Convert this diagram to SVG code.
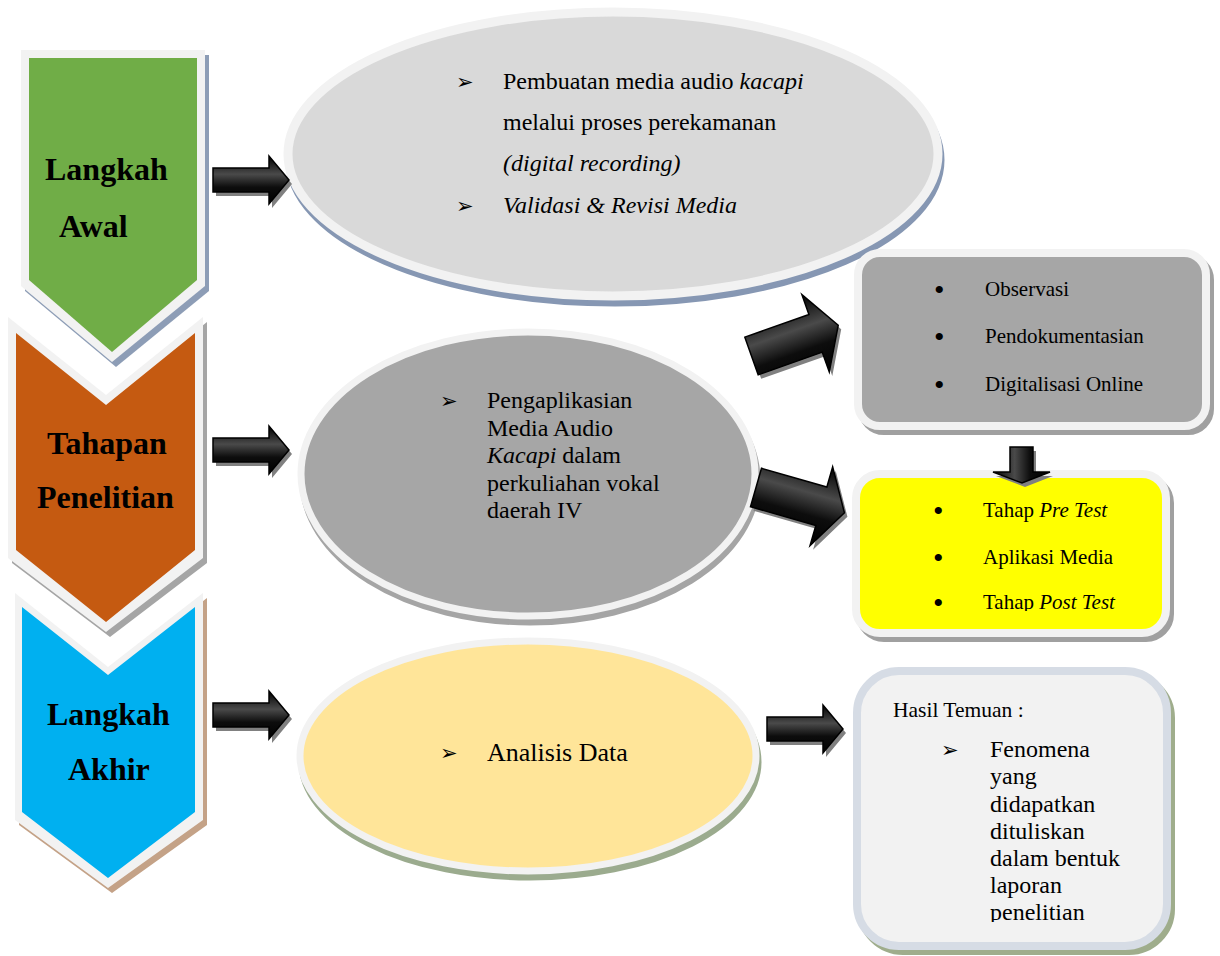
<svg xmlns="http://www.w3.org/2000/svg" xmlns:xlink="http://www.w3.org/1999/xlink" width="1220" height="956" viewBox="0 0 1220 956">
<style>
.t{font-family:"Liberation Serif","Times New Roman",serif;fill:#000}
.lbl{font-weight:bold;font-size:32px}
.e{font-size:24px}
.b{font-size:21px}
.dot{font-family:"Liberation Serif","Times New Roman",serif;font-size:30px;fill:#000}
.sym{font-family:"DejaVu Sans",sans-serif;font-size:21px;fill:#000}
.arr{fill:url(#ag);stroke:#000;stroke-width:1.5;stroke-linejoin:miter}
.ash{fill:#808080}
.brd{fill:#f2f2f2}
</style>
<defs>
<linearGradient id="ag" x1="0" y1="0" x2="0" y2="1">
<stop offset="0" stop-color="#000"/>
<stop offset="0.38" stop-color="#4a4a4a"/>
<stop offset="0.65" stop-color="#0d0d0d"/>
<stop offset="1" stop-color="#000"/>
</linearGradient>
<linearGradient id="ag2" x1="0" y1="0" x2="1" y2="0">
<stop offset="0" stop-color="#000"/>
<stop offset="0.38" stop-color="#4a4a4a"/>
<stop offset="0.65" stop-color="#0d0d0d"/>
<stop offset="1" stop-color="#000"/>
</linearGradient>
<path id="ha" d="M0,-12 H56 V-24 L76,0 L56,24 V12 H0 Z"/>
<path id="da" d="M0,-20 H68 V-41 L92,0 L68,41 V20 H0 Z"/>
<clipPath id="c2"><rect x="850" y="470" width="330" height="141"/></clipPath>
<clipPath id="c3"><rect x="850" y="670" width="330" height="252"/></clipPath>
</defs>

<g id="step1">
<polygon points="25,55 209,55 209,291 116,367 25,291" fill="#8d9db6"/>
<polygon class="brd" points="21,50 205,50 205,286 112,362 21,286"/>
<polygon points="29,58 197,58 197,280 112,352 29,280" fill="#70ad47"/>
<text class="t lbl" x="45" y="180">Langkah</text>
<text class="t lbl" x="59" y="237">Awal</text>
</g>

<g id="step2">
<polygon points="12,322 110,400 207,322 207,563 110,637 12,563" fill="#a5a5a5"/>
<polygon class="brd" points="8,317 106,395 203,317 203,558 106,632 8,558"/>
<polygon points="16,333 106,405 195,333 195,550 106,622 16,550" fill="#c55a11"/>
<text class="t lbl" x="47" y="454">Tahapan</text>
<text class="t lbl" x="37" y="508">Penelitian</text>
</g>

<g id="step3">
<polygon points="19,598 112,672 207,598 207,825 112,893 19,825" fill="#c4a287"/>
<polygon class="brd" points="15,593 108,667 203,593 203,820 108,888 15,820"/>
<polygon points="22,607 108,675 195,607 195,812 108,878 22,812" fill="#00b0f0"/>
<text class="t lbl" x="47" y="725">Langkah</text>
<text class="t lbl" x="68" y="780">Akhir</text>
</g>

<g id="ellipse1">
<ellipse cx="615" cy="160" rx="325" ry="142" fill="#8697b3" stroke="#8697b3" stroke-width="9"/>
<ellipse cx="613" cy="154" rx="325" ry="142" fill="#d9d9d9" stroke="#f2f2f2" stroke-width="9"/>
<text class="sym" x="456" y="89">➢</text>
<text class="t e" x="503" y="89">Pembuatan media audio <tspan font-style="italic">kacapi</tspan></text>
<text class="t e" x="503" y="130">melalui proses perekamanan</text>
<text class="t e" x="503" y="171" font-style="italic">(digital recording)</text>
<text class="sym" x="456" y="213">➢</text>
<text class="t e" x="503" y="213" font-style="italic">Validasi &amp; Revisi Media</text>
</g>

<g id="ellipse2">
<ellipse cx="530" cy="480" rx="227" ry="142" fill="#a5a5a5" stroke="#a5a5a5" stroke-width="7"/>
<ellipse cx="528" cy="474" rx="227" ry="142" fill="#a6a6a6" stroke="#f2f2f2" stroke-width="7"/>
<text class="sym" x="440" y="408">➢</text>
<text class="t e" x="487" y="408">Pengaplikasian</text>
<text class="t e" x="487" y="436">Media Audio</text>
<text class="t e" x="487" y="463"><tspan font-style="italic">Kacapi</tspan> dalam</text>
<text class="t e" x="487" y="491">perkuliahan vokal</text>
<text class="t e" x="487" y="518">daerah IV</text>
</g>

<g id="ellipse3">
<ellipse cx="530" cy="762" rx="228" ry="115" fill="#9bab8e" stroke="#9bab8e" stroke-width="7"/>
<ellipse cx="528" cy="756" rx="228" ry="115" fill="#ffe599" stroke="#f2f2f2" stroke-width="7"/>
<text class="sym" x="440" y="760">➢</text>
<text class="t" x="487" y="761" font-size="26">Analisis Data</text>
</g>

<g id="box1">
<rect x="862" y="258" width="348" height="173" rx="22" fill="#a0a0a0" stroke="#a0a0a0" stroke-width="8"/>
<rect x="858" y="253" width="348" height="173" rx="22" fill="#a6a6a6" stroke="#f2f2f2" stroke-width="8"/>
<text class="dot" x="934" y="300">•</text>
<text class="t b" x="985" y="296">Observasi</text>
<text class="dot" x="934" y="347">•</text>
<text class="t b" x="985" y="343">Pendokumentasian</text>
<text class="dot" x="934" y="395">•</text>
<text class="t b" x="985" y="391">Digitalisasi Online</text>
</g>

<g id="box2">
<rect x="860" y="479" width="310" height="159" rx="24" fill="#a0a0a0" stroke="#a0a0a0" stroke-width="8"/>
<rect x="856" y="474" width="310" height="159" rx="24" fill="#ffff00" stroke="#f2f2f2" stroke-width="8"/>
<g clip-path="url(#c2)">
<text class="dot" x="933" y="521">•</text>
<text class="t b" x="983" y="517">Tahap <tspan font-style="italic">Pre Test</tspan></text>
<text class="dot" x="933" y="568">•</text>
<text class="t b" x="983" y="564">Aplikasi Media</text>
<text class="dot" x="933" y="613">•</text>
<text class="t b" x="983" y="609">Tahap <tspan font-style="italic">Post Test</tspan></text>
</g>
</g>

<g id="box3">
<rect x="861" y="676" width="310" height="275" rx="42" fill="#9fad8c" stroke="#9fad8c" stroke-width="8"/>
<rect x="857" y="671" width="310" height="275" rx="42" fill="#f2f2f2" stroke="#d6dce5" stroke-width="8"/>
<text class="t" x="893" y="717" font-size="21.5">Hasil Temuan :</text>
<text class="sym" x="941" y="757">➢</text>
<g clip-path="url(#c3)">
<text class="t e" x="990" y="757">Fenomena</text>
<text class="t e" x="990" y="784">yang</text>
<text class="t e" x="990" y="812">didapatkan</text>
<text class="t e" x="990" y="839">dituliskan</text>
<text class="t e" x="990" y="866">dalam bentuk</text>
<text class="t e" x="990" y="893">laporan</text>
<text class="t e" x="990" y="920">penelitian</text>
</g>
</g>

<g id="connectors">
<use xlink:href="#ha" href="#ha" class="ash" transform="translate(216,184)"/>
<use xlink:href="#ha" href="#ha" class="arr" transform="translate(213,180)"/>
<use xlink:href="#ha" href="#ha" class="ash" transform="translate(216,454)"/>
<use xlink:href="#ha" href="#ha" class="arr" transform="translate(213,450)"/>
<use xlink:href="#ha" href="#ha" class="ash" transform="translate(216,719)"/>
<use xlink:href="#ha" href="#ha" class="arr" transform="translate(213,715)"/>
<use xlink:href="#ha" href="#ha" class="ash" transform="translate(770,733)"/>
<use xlink:href="#ha" href="#ha" class="arr" transform="translate(767,729)"/>
<use xlink:href="#da" href="#da" class="ash" transform="translate(754.5,360) rotate(-19.5)"/>
<use xlink:href="#da" href="#da" class="arr" transform="translate(751.5,356) rotate(-19.5)"/>
<use xlink:href="#da" href="#da" class="ash" transform="translate(759,491.5) rotate(16)"/>
<use xlink:href="#da" href="#da" class="arr" transform="translate(756,487.5) rotate(16)"/>
<path d="M1013,451 H1036 V476 H1053 L1025,487 L996,476 H1013 Z" fill="#808080"/>
<path d="M1010,447 H1033 V472 H1050 L1022,483 L993,472 H1010 Z" fill="url(#ag2)" stroke="#000" stroke-width="1.5"/>
</g>
</svg>
